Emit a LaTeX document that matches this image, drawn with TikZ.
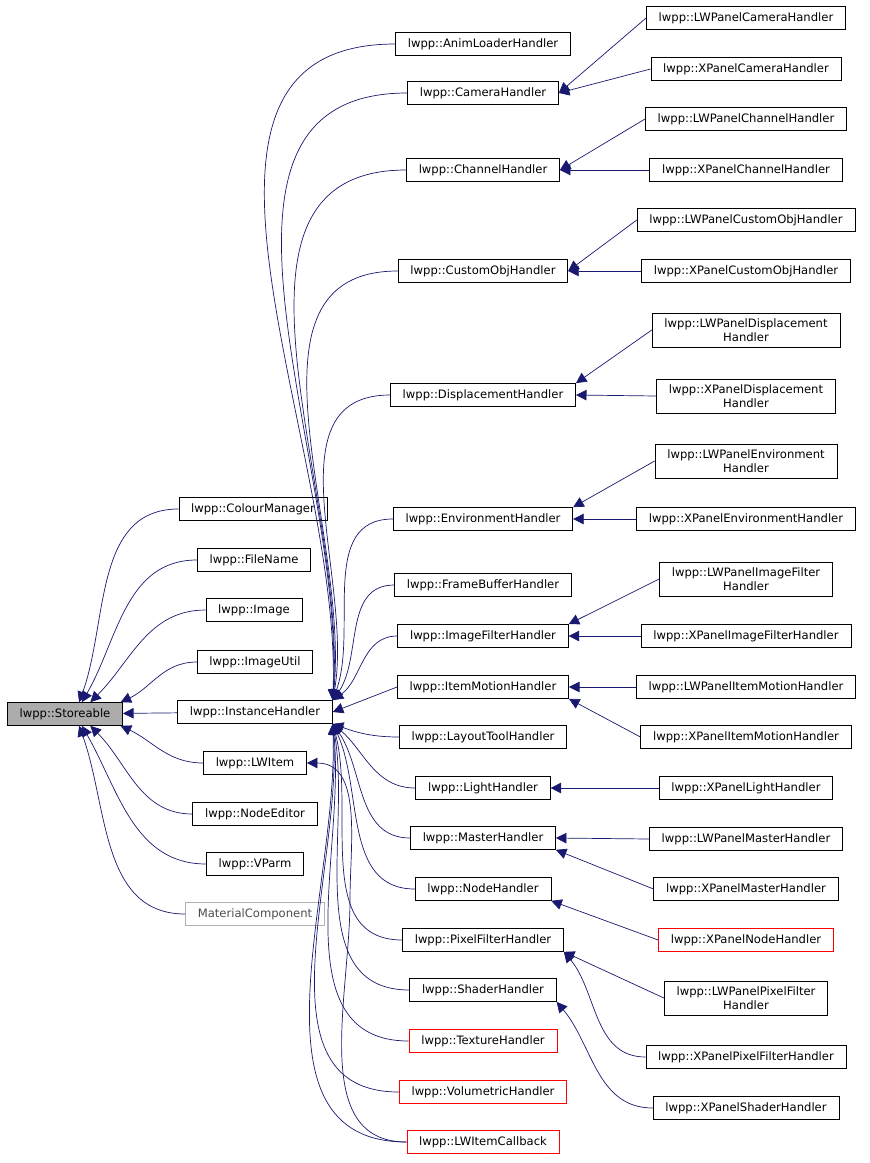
\documentclass[tikz,border=0pt]{standalone}
\usepackage{fontspec}
\setmainfont{DejaVu Sans}
\usetikzlibrary{arrows.meta}
\definecolor{edgeblue}{HTML}{191970}
\tikzset{
  cls/.style={draw=black, font=\fontsize{6.6}{7.6}\selectfont, inner xsep=7pt, minimum height=0.44cm, align=center},
  base/.style={cls, fill=gray!65},
  undoc/.style={cls, draw=red},
  ext/.style={cls, draw=gray!60, text=gray!60!black},
  inh/.style={draw=edgeblue, -{Triangle[length=6pt,width=6pt]}}
}
\begin{document}
\begin{tikzpicture}[x=0.02cm,y=-0.02cm]
    \useasboundingbox (0,0) rectangle (869,1163);

    % base class
    \node[base] (storeable) at (65,714) {lwpp::Storeable};

    % first level
    \node[cls] (colour) at (253,509) {lwpp::ColourManager};
    \node[cls] (filename) at (254,560) {lwpp::FileName};
    \node[cls] (image) at (254,610) {lwpp::Image};
    \node[cls] (imageutil) at (255,662) {lwpp::ImageUtil};
    \node[cls] (instance) at (255,712) {lwpp::InstanceHandler};
    \node[cls] (lwitem) at (255,763) {lwpp::LWItem};
    \node[cls] (nodeeditor) at (255,814) {lwpp::NodeEditor};
    \node[cls] (vparm) at (255,864) {lwpp::VParm};
    \node[ext] (material) at (255,914) {MaterialComponent};

    % second level
    \node[cls] (animloader) at (483,44) {lwpp::AnimLoaderHandler};
    \node[cls] (camera) at (483,93) {lwpp::CameraHandler};
    \node[cls] (channel) at (483,170) {lwpp::ChannelHandler};
    \node[cls] (customobj) at (483,271) {lwpp::CustomObjHandler};
    \node[cls] (displacement) at (483,395) {lwpp::DisplacementHandler};
    \node[cls] (environment) at (483,519) {lwpp::EnvironmentHandler};
    \node[cls] (framebuffer) at (483,585) {lwpp::FrameBufferHandler};
    \node[cls] (imagefilter) at (483,636) {lwpp::ImageFilterHandler};
    \node[cls] (itemmotion) at (483,687) {lwpp::ItemMotionHandler};
    \node[cls] (layouttool) at (483,737) {lwpp::LayoutToolHandler};
    \node[cls] (light) at (483,788) {lwpp::LightHandler};
    \node[cls] (master) at (483,838) {lwpp::MasterHandler};
    \node[cls] (nodeh) at (483,889) {lwpp::NodeHandler};
    \node[cls] (pixelfilter) at (483,940) {lwpp::PixelFilterHandler};
    \node[cls] (shader) at (483,990) {lwpp::ShaderHandler};
    \node[undoc] (texture) at (483,1041) {lwpp::TextureHandler};
    \node[undoc] (volumetric) at (483,1092) {lwpp::VolumetricHandler};
    \node[undoc] (itemcallback) at (483,1142) {lwpp::LWItemCallback};

    % third level
    \node[cls] (lwcamera) at (746,18) {lwpp::LWPanelCameraHandler};
    \node[cls] (xcamera) at (746,69) {lwpp::XPanelCameraHandler};
    \node[cls] (lwchannel) at (746,119) {lwpp::LWPanelChannelHandler};
    \node[cls] (xchannel) at (746,170) {lwpp::XPanelChannelHandler};
    \node[cls] (lwcustomobj) at (746,220) {lwpp::LWPanelCustomObjHandler};
    \node[cls] (xcustomobj) at (746,271) {lwpp::XPanelCustomObjHandler};
    \node[cls] (lwdisplacement) at (746,330) {lwpp::LWPanelDisplacement\\Handler};
    \node[cls] (xdisplacement) at (746,396) {lwpp::XPanelDisplacement\\Handler};
    \node[cls] (lwenvironment) at (746,461) {lwpp::LWPanelEnvironment\\Handler};
    \node[cls] (xenvironment) at (746,519) {lwpp::XPanelEnvironmentHandler};
    \node[cls] (lwimagefilter) at (746,579) {lwpp::LWPanelImageFilter\\Handler};
    \node[cls] (ximagefilter) at (746,636) {lwpp::XPanelImageFilterHandler};
    \node[cls] (lwitemmotion) at (746,687) {lwpp::LWPanelItemMotionHandler};
    \node[cls] (xitemmotion) at (746,737) {lwpp::XPanelItemMotionHandler};
    \node[cls] (xlight) at (746,788) {lwpp::XPanelLightHandler};
    \node[cls] (lwmaster) at (746,839) {lwpp::LWPanelMasterHandler};
    \node[cls] (xmaster) at (746,889) {lwpp::XPanelMasterHandler};
    \node[undoc] (xnode) at (746,940) {lwpp::XPanelNodeHandler};
    \node[cls] (lwpixelfilter) at (746,998) {lwpp::LWPanelPixelFilter\\Handler};
    \node[cls] (xpixelfilter) at (746,1057) {lwpp::XPanelPixelFilterHandler};
    \node[cls] (xshader) at (746,1108) {lwpp::XPanelShaderHandler};

    % first level -> storeable
    \foreach \c/\p/\a in {colour/40/70,filename/35/60,image/25/45,imageutil/12/25}
        \draw[inh] (\c.west) to[out=180,in=\a] (storeable.\p);
    \draw[inh] (instance) -- (storeable);
    \foreach \c/\p/\a in {lwitem/-12/-25,nodeeditor/-25/-45,vparm/-35/-60,material/-40/-70}
        \draw[inh] (\c.west) to[out=180,in=\a] (storeable.\p);

    % second level -> instance
    \foreach \c/\a in {animloader/88,camera/87,channel/86,customobj/84,displacement/80,environment/70,framebuffer/55,imagefilter/35}
        \draw[inh] (\c.west) to[out=180,in=\a] (instance.north east);
    \draw[inh] (itemmotion.west) -- (instance.east);
    \foreach \c/\a in {layouttool/-20,light/-40,master/-55,nodeh/-65,pixelfilter/-75,shader/-80,texture/-84,volumetric/-86,itemcallback/-88}
        \draw[inh] (\c.west) to[out=180,in=\a] (instance.south east);
    \draw[inh] (itemcallback.west) to[out=180,in=-90] (350,900) to[out=90,in=0] (lwitem.east);

    % third level -> second level
    \draw[inh] (lwcamera.west) -- (camera.east);
    \draw[inh] (xcamera.west) -- (camera.east);
    \draw[inh] (lwchannel.west) -- (channel.east);
    \draw[inh] (xchannel.west) -- (channel.east);
    \draw[inh] (lwcustomobj.west) -- (customobj.east);
    \draw[inh] (xcustomobj.west) -- (customobj.east);
    \draw[inh] (lwdisplacement.west) -- (displacement.north east);
    \draw[inh] (xdisplacement.west) -- (displacement.east);
    \draw[inh] (lwenvironment.west) -- (environment.north east);
    \draw[inh] (xenvironment.west) -- (environment.east);
    \draw[inh] (lwimagefilter.west) -- (imagefilter.north east);
    \draw[inh] (ximagefilter.west) -- (imagefilter.east);
    \draw[inh] (lwitemmotion.west) -- (itemmotion.east);
    \draw[inh] (xitemmotion.west) -- (itemmotion.south east);
    \draw[inh] (xlight.west) -- (light.east);
    \draw[inh] (lwmaster.west) -- (master.east);
    \draw[inh] (xmaster.west) -- (master.south east);
    \draw[inh] (xnode.west) -- (nodeh.south east);
    \draw[inh] (lwpixelfilter.west) -- (pixelfilter.south east);
    \draw[inh] (xpixelfilter.west) to[out=180,in=-50] (pixelfilter.south east);
    \draw[inh] (xshader.west) to[out=180,in=-50] (shader.south east);
\end{tikzpicture}
\end{document}
